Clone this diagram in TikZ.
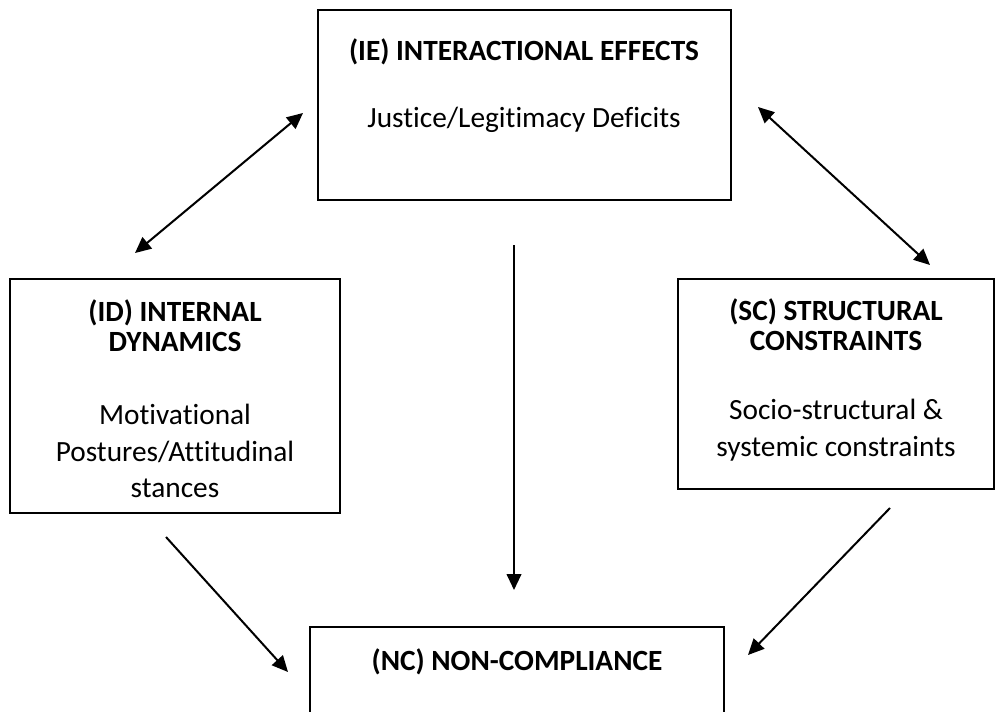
\documentclass[tikz,border=0pt]{standalone}
\usepackage{fontspec}
\setmainfont{Carlito}[Ligatures=CommonOff]
\usetikzlibrary{arrows.meta,positioning}

\begin{document}
\begin{tikzpicture}[
        x=0.75pt, y=-0.75pt,
        factor_box/.style={rectangle, draw, line width=1.5pt},
        head_text/.style={font=\fontsize{22}{22.5}\selectfont\bfseries, align=center, inner sep=0pt},
        body_text/.style={font=\fontsize{22}{27.5}\selectfont, align=center, inner sep=0pt},
        link/.style={line width=1.5pt, -{Triangle[length=12pt, width=11pt]}},
        two_way/.style={line width=1.5pt, {Triangle[length=12pt, width=11pt]}-{Triangle[length=12pt, width=11pt]}}
    ]
        \useasboundingbox (0,0) rectangle (1003,711);
        \clip (0,0) rectangle (1003,711);

        % Boxes
        \node[factor_box, minimum width=309.75pt, minimum height=142.5pt] (IE) at (524.5,105) {};
        \node[factor_box, minimum width=247.5pt, minimum height=175.5pt] (ID) at (175,396) {};
        \node[factor_box, minimum width=237pt, minimum height=157.5pt] (SC) at (836,384) {};
        \node[factor_box, minimum width=310.5pt, minimum height=142.5pt] (NC) at (517,722) {};

        % Texts
        \node[head_text] (IE_head) at (524,52) {(IE) INTERACTIONAL EFFECTS};
        \node[body_text] (IE_body) at (524,120) {Justice/Legitimacy Deficits};
        \node[head_text] (ID_head) at (175,326) {(ID) INTERNAL\\DYNAMICS};
        \node[body_text] (ID_body) at (175,451) {Motivational\\Postures/Attitudinal\\stances};
        \node[head_text] (SC_head) at (836,325) {(SC) STRUCTURAL\\CONSTRAINTS};
        \node[body_text] (SC_body) at (836,430) {Socio-structural \&\\systemic constraints};
        \node[head_text] (NC_head) at (517,662) {(NC) NON-COMPLIANCE};

        % Arrow ends
        \coordinate (ID_top) at (135,253);
        \coordinate (IE_left) at (303,113);
        \coordinate (IE_right) at (758,107);
        \coordinate (SC_top) at (930,265);
        \coordinate (IE_bottom) at (514,245);
        \coordinate (NC_top) at (514,590);
        \coordinate (ID_bottom) at (166,537);
        \coordinate (NC_left) at (288,672);
        \coordinate (SC_bottom) at (890,508);
        \coordinate (NC_right) at (748,655);

        % Arrows
        \draw[two_way] (ID_top) -- (IE_left);
        \draw[two_way] (IE_right) -- (SC_top);
        \draw[link] (IE_bottom) -- (NC_top);
        \draw[link] (ID_bottom) -- (NC_left);
        \draw[link] (SC_bottom) -- (NC_right);
    \end{tikzpicture}
\end{document}
